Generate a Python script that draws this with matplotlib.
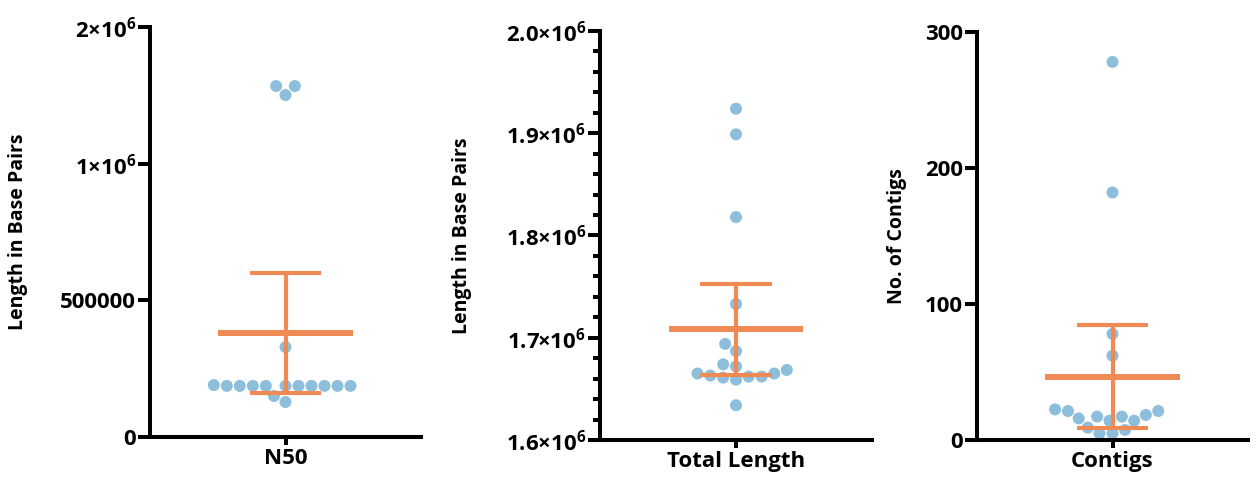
import numpy as np
import matplotlib
matplotlib.use("Agg")
import matplotlib.pyplot as plt

# values
n50_values = [1568000, 1568000, 1502000, 329000,
              187000, 187000, 187000, 187000, 187000, 187000, 187000, 187000, 187000, 187000, 190000,
              150000, 128000]
n50_mean = 380000
n50_ci = (161000, 600000)

total_values = [1924000, 1899000, 1818000, 1733000, 1694000, 1687000, 1674000, 1668500,
                1665000, 1662000, 1661000, 1659000, 1662000, 1663000, 1665000, 1672000, 1634000]
total_mean = 1708300
total_ci = (1663600, 1752900)

contig_values = [278, 182, 78, 62, 21.3, 14.2, 18.4, 17.2, 15.9, 17.2, 21.3, 22.5, 14.2,
                 9.1, 7.4, 4.9, 4.9]
contig_mean = 46.6
contig_ci = (8.6, 84.6)

n50_ticks = [0, 500000, 1000000, 2000000]
n50_ticklabels = ["0", "500000", "1×10$^{6}$", "2×10$^{6}$"]
total_ticks = [1600000, 1700000, 1800000, 1900000, 2000000]
total_ticklabels = ["1.6×10$^{6}$", "1.7×10$^{6}$", "1.8×10$^{6}$", "1.9×10$^{6}$", "2.0×10$^{6}$"]
contig_ticks = [0, 100, 200, 300]

DOT = "#8dbfdd"
ORANGE = "#ef8a55"
DOT_PX = 12.0
GAP_PX = 13.0

plt.rcParams["font.family"] = ["Open Sans", "DejaVu Sans"]
plt.rcParams["font.weight"] = "bold"
plt.rcParams["mathtext.default"] = "regular"

fig = plt.figure(figsize=(12.57, 4.79), dpi=100)


def seg_forward(v):
    v = np.asarray(v, dtype=float)
    return np.where(v <= 1e6, v, 1e6 + (v - 1e6) * 0.5)


def seg_inverse(v):
    v = np.asarray(v, dtype=float)
    return np.where(v <= 1e6, v, 1e6 + (v - 1e6) * 2.0)


def swarm_offsets(ax, values, diameter):
    # plain beeswarm done in pixel space, gives x offsets in data units
    vals = np.asarray(values, dtype=float)
    ys = ax.transData.transform(np.column_stack([np.zeros(len(vals)), vals]))[:, 1]
    x0 = ax.transData.transform((0, vals[0]))[0]
    x1 = ax.transData.transform((1, vals[0]))[0]
    px_per_unit = x1 - x0
    xs = np.zeros(len(vals))
    placed = []
    for i in np.argsort(vals, kind="stable"):
        y = ys[i]
        cands = [0.0]
        for px, py in placed:
            dy = abs(py - y)
            if dy < diameter:
                dx = np.sqrt(diameter ** 2 - dy ** 2)
                cands += [px - dx, px + dx]
        cands.sort(key=lambda c: (round(abs(c), 6), c))
        for c in cands:
            if all((c - px) ** 2 + (y - py) ** 2 >= diameter ** 2 - 1e-6 for px, py in placed):
                xs[i] = c
                break
        placed.append((xs[i], y))
    return xs / px_per_unit


def make_panel(rect, values, mean, ci, ylim, ticks, ticklabels, xlabel, ylabel, label_x,
               scale=None, minor=None):
    ax = fig.add_axes(rect)
    if scale is not None:
        ax.set_yscale("function", functions=scale)
    ax.set_xlim(-1, 1)
    ax.set_ylim(*ylim)
    ax.spines["top"].set_visible(False)
    ax.spines["right"].set_visible(False)
    for s in ("left", "bottom"):
        ax.spines[s].set_linewidth(2.9)
        ax.spines[s].set_capstyle("projecting")

    ax.set_yticks(ticks)
    ax.set_yticklabels(ticklabels)
    if minor is not None:
        ax.set_yticks(minor, minor=True)
        ax.tick_params(axis="y", which="minor", length=5, width=2.9)
    else:
        ax.minorticks_off()
    ax.tick_params(axis="y", which="major", length=9, width=2.9, pad=1, labelsize=16)
    ax.set_xticks([0])
    ax.set_xticklabels([xlabel])
    ax.tick_params(axis="x", length=6, width=2.9, pad=2, labelsize=16)

    ax.set_ylabel(ylabel, fontsize=14, fontweight="bold")
    ax.yaxis.set_label_coords(label_x, 0.5)

    offs = swarm_offsets(ax, values, GAP_PX)
    ax.scatter(offs, values, s=(DOT_PX * 0.72) ** 2, color=DOT, edgecolors="none",
               zorder=2, clip_on=False)

    ax.hlines(mean, -0.495, 0.495, color=ORANGE, lw=4.3, zorder=3)
    ax.hlines(list(ci), -0.262, 0.262, color=ORANGE, lw=3.0, zorder=3)
    ax.vlines(0, ci[0], ci[1], color=ORANGE, lw=3.0, zorder=3)
    return ax


make_panel([150 / 1257, 42 / 479, 271 / 1257, 410 / 479], n50_values, n50_mean, n50_ci,
           (0, 2e6), n50_ticks, n50_ticklabels, "N50", "Length in Base Pairs", -0.45,
           scale=(seg_forward, seg_inverse))

make_panel([600 / 1257, 39 / 479, 272 / 1257, 409 / 479], total_values, total_mean, total_ci,
           (1.6e6, 2.0e6), total_ticks, total_ticklabels, "Total Length",
           "Length in Base Pairs", -0.47,
           minor=np.arange(1.62e6, 2.0e6, 2e4))

make_panel([977 / 1257, 39 / 479, 271 / 1257, 408 / 479], contig_values, contig_mean, contig_ci,
           (0, 300), contig_ticks, [str(t) for t in contig_ticks], "Contigs",
           "No. of Contigs", -0.258)

fig.savefig("out.png", dpi=100)
